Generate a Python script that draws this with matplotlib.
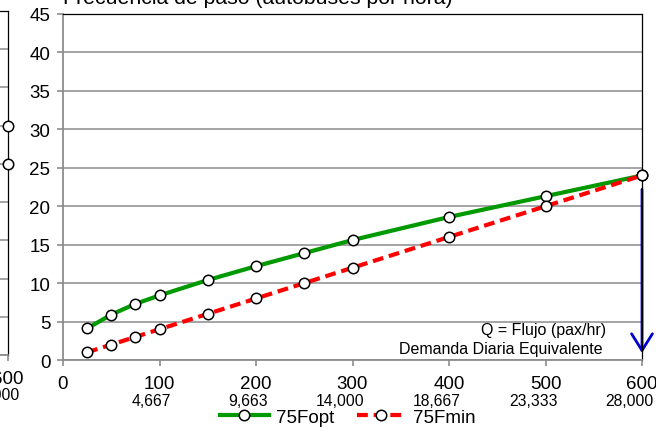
import matplotlib
matplotlib.use('Agg')
import matplotlib.pyplot as plt
from matplotlib.transforms import offset_copy

plt.rcParams['font.family'] = ['Liberation Sans', 'DejaVu Sans']

# ---------- datos ----------
q_flujo = [25, 50, 75, 100, 150, 200, 250, 300, 400, 500, 600]
f_opt = [4.1, 5.9, 7.3, 8.4, 10.4, 12.2, 13.9, 15.6, 18.6, 21.3, 24.0]
f_min = [1.0, 2.0, 3.0, 4.0, 6.0, 8.0, 10.0, 12.0, 16.0, 20.0, 24.0]

x_ticks = [0, 100, 200, 300, 400, 500, 600]
demanda = ['', '4,667', '9,663', '14,000', '18,667', '23,333', '28,000']

# grafica vecina (solo se ve el borde derecho)
prev_q = [600]
prev_opt = [25.0]
prev_min = [30.0]

flecha_y = (22.2, 0.9)

verde = '#009900'
rojo = '#FF0000'
azul = '#0000CC'
gris = '#8C8C8C'

W, H = 656, 431
fig = plt.figure(figsize=(W / 100, H / 100), dpi=100)


def estilo(ax):
    ax.set_xlim(0, 600)
    ax.set_ylim(0, 45)
    ax.set_xticks(x_ticks)
    ax.set_xticklabels([str(t) for t in x_ticks])
    ax.set_yticks(range(0, 50, 5))
    ax.grid(axis='y', color=gris, lw=1.1)
    ax.set_axisbelow(True)
    for s in ['left', 'bottom']:
        ax.spines[s].set_color(gris)
        ax.spines[s].set_linewidth(1.3)
    for s in ['top', 'right']:
        ax.spines[s].set_color('black')
        ax.spines[s].set_linewidth(0.9)
    ax.tick_params(axis='both', colors=gris, length=4, width=1.2,
                   labelcolor='black', labelsize=13.5, pad=5)
    ax.tick_params(axis='x', pad=7)
    for xv, lab in zip(x_ticks, demanda):
        tr = offset_copy(ax.get_xaxis_transform(), fig=fig, x=12, y=-40, units='dots')
        ax.text(xv, 0, lab, transform=tr, ha='right', va='center', fontsize=11.3,
                clip_on=False)


def series(ax, q, yo, ym, lab=True):
    ax.plot(q, yo, color=verde, lw=3, marker='o', ms=7.5, mfc='white', mec='black',
            mew=1.1, label='75Fopt' if lab else None, clip_on=False, zorder=3)
    ax.plot(q, ym, color=rojo, lw=3, ls=(0, (2.6, 1.4)), marker='o', ms=7.5, mfc='white',
            mec='black', mew=1.1, label='75Fmin' if lab else None, clip_on=False, zorder=3)


# grafica anterior, recortada a la izquierda
ax0 = fig.add_axes([(7.5 - 579) / W, 1 - 356 / H, 579 / W, 344 / H])
estilo(ax0)
series(ax0, prev_q, prev_opt, prev_min, lab=False)

# grafica principal
ax = fig.add_axes([63 / W, 1 - 361 / H, 579 / W, 346 / H])
estilo(ax)
series(ax, q_flujo, f_opt, f_min)

ax.annotate('', xy=(600, flecha_y[1]), xytext=(600, flecha_y[0]),
            arrowprops=dict(arrowstyle='->,head_length=1.2,head_width=0.75', color=azul,
                            lw=2, shrinkA=0, shrinkB=0, mutation_scale=10),
            annotation_clip=False, zorder=2)

ax.text(0.938, 0.088, 'Q = Flujo (pax/hr)', transform=ax.transAxes, ha='right',
        va='center', fontsize=11.5)
ax.text(0.932, 0.034, 'Demanda Diaria Equivalente', transform=ax.transAxes, ha='right',
        va='center', fontsize=11.5)

fig.text(63 / W, 1 - 4 / H, 'Frecuencia de paso (autobuses por hora)', ha='left',
         va='baseline', fontsize=15.3)

fig.legend(loc='center', bbox_to_anchor=(348 / W, 1 - 418 / H), ncol=2, frameon=False,
           fontsize=13.5, handlelength=2.6, handletextpad=0.4, columnspacing=1.2,
           borderpad=0, borderaxespad=0)

fig.savefig('out.png', dpi=100)
